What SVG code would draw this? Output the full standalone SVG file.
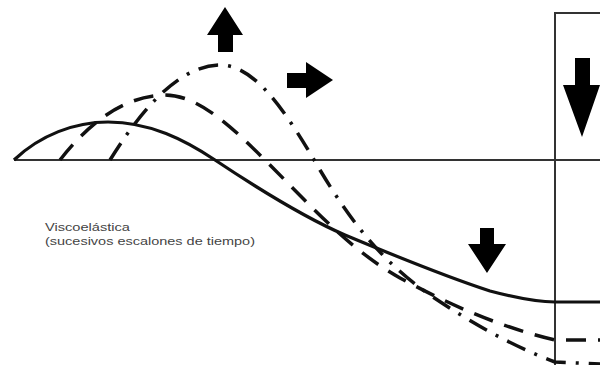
<svg xmlns="http://www.w3.org/2000/svg" width="600" height="365" viewBox="0 0 600 365">
<style>
.frame{fill:none;stroke:#333;stroke-width:2}
.c{fill:none;stroke:#111;stroke-width:3.5;stroke-linecap:butt}
.solid{stroke-width:3.2}
.dash{stroke-dasharray:20 12}
.dashdot{stroke-dasharray:20 10 3 10}
.arrow{fill:#000}
.lbl{font-family:"Liberation Sans",Arial,sans-serif;font-size:11.5px;fill:#444}
</style>
<rect width="600" height="365" fill="#fff"/>
<g id="axes">
<line class="frame" x1="14" y1="160" x2="600" y2="160"/>
<polyline class="frame" points="555,365 555,13 600,13"/>
</g>
<g id="curves">
<path id="solid-curve" class="c solid" d="M14,160 C40,135 75,122 108,122 C150,122 185,140 215,160 C260,190 310,220 345,235 C400,258 450,278 490,291 C520,299 540,302 555,302 L600,302"/>
<path id="dashed-curve" class="c dash" d="M60,160 C85,128 120,96 165,95 C200,95 235,130 270,165 C310,205 350,250 400,278 C450,305 500,327 555,340 L600,340"/>
<path id="dashdot-curve" class="c dashdot" d="M110,160 C135,120 175,65 220,65 C255,65 285,110 320,170 C350,220 380,260 430,295 C470,322 510,345 555,362 L600,364"/>
</g>
<g id="arrow-up"><polygon class="arrow" points="225,7 243,35 233,35 233,52 218,52 218,35 207,35"/></g>
<g id="arrow-right"><polygon class="arrow" points="333,80 306,98 306,88 287,88 287,73 306,73 306,62"/></g>
<g id="arrow-down-small"><polygon class="arrow" points="487,273 506,244 494,244 494,228 480,228 480,244 468,244"/></g>
<g id="arrow-down-big"><polygon class="arrow" points="582,137 600,85 590,85 590,58 575,58 575,85 563,85"/></g>
<g id="label">
<text class="lbl" x="45" y="231" textLength="85" lengthAdjust="spacingAndGlyphs">Viscoelástica</text>
<text class="lbl" x="45" y="245" textLength="210" lengthAdjust="spacingAndGlyphs">(sucesivos escalones de tiempo)</text>
</g>
</svg>
